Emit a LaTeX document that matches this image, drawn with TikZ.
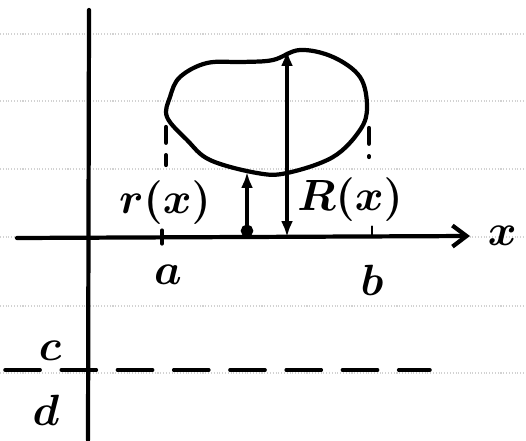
\documentclass[tikz,border=0pt]{standalone}
\usepackage{amsmath, amssymb}
\usepackage{xcolor}
\usepackage{tikz}
\usetikzlibrary{arrows.meta, positioning, calc}
\definecolor{paperline}{RGB}{210, 210, 210}
\tikzset{
    ink/.style={line width=2.4pt, line cap=round, line join=round},
    inkdash/.style={ink, dash pattern=on 9pt off 7pt},
    ruled/.style={paperline, densely dotted, line width=0.6pt},
    lbl/.style={inner sep=0pt, font=\fontsize{28}{28}\selectfont\boldmath},
}

\begin{document}
\begin{tikzpicture}
        \useasboundingbox (0,0) rectangle (10.52,8.8);

        % Paper lines
        \foreach \y in {8.12, 6.78, 5.42, 4.06, 2.68, 1.34}
            \draw[ruled] (0,\y) -- (10.52,\y);

        % Axes
        \coordinate (ybot) at (1.76,0);
        \coordinate (ytop) at (1.78,8.6);
        \coordinate (xleft) at (0.34,4.04);
        \coordinate (xright) at (9.4,4.08);
        \draw[ink] (ybot) -- (ytop);
        \draw[ink, -{Straight Barb[length=8pt, width=12pt]}] (xleft) -- (xright);
        \node[lbl, right=0.35cm of xright] (xlab) {$x$};

        % Blob
        \draw[ink] plot [smooth cycle, tension=0.6] coordinates {(3.34,6.46) (3.74,6.0) (4.2,5.6) (5.14,5.34) (5.74,5.34) (6.66,5.66) (7.2,6.2) (7.34,6.66) (7.2,7.26) (6.66,7.66) (6.0,7.8) (5.46,7.6) (4.86,7.56) (4.14,7.54) (3.6,7.26) (3.4,6.86)};

        % Limits a and b
        \coordinate (atick) at (3.24,4.05);
        \coordinate (btick) at (7.44,4.07);
        \draw[ink] ($(atick)+(0,-0.12)$) -- ($(atick)+(0,0.14)$);
        \draw[ink, line width=1.4pt] (btick) -- ++(0,0.2);
        \node[lbl] (alab) at (3.36,3.3) {$a$};
        \node[lbl] (blab) at (7.44,3.2) {$b$};
        \draw[inkdash] (3.32,6.26) -- (3.32,5.5);
        \draw[inkdash] (7.38,6.24) -- (7.38,5.66);

        % Radii
        \coordinate (rlow) at (4.94,4.06);
        \coordinate (rtop) at (4.94,5.36);
        \coordinate (Rlow) at (5.74,4.06);
        \coordinate (Rtop) at (5.74,7.8);
        \draw[ink, {Circle[length=7pt]}-{Latex[length=9pt]}] (rlow) -- (rtop);
        \draw[ink, {Latex[length=9pt]}-{Latex[length=9pt]}] (Rlow) -- (Rtop);
        \node[lbl, font=\fontsize{24}{24}\selectfont\boldmath] (rlab) at (3.3,4.74) {$r(x)$};
        \node[lbl, font=\fontsize{25}{25}\selectfont\boldmath] (Rlab) at (7.0,4.8) {$R(x)$};

        % Line y = c
        \coordinate (cleft) at (0.1,1.4);
        \coordinate (cright) at (8.6,1.4);
        \draw[inkdash, line width=2pt, dash pattern=on 20pt off 12pt] (cleft) -- (cright);
        \node[lbl] (clab) at (1.0,1.78) {$c$};
        \node[lbl] (dlab) at (0.92,0.6) {$d$};
    \end{tikzpicture}
\end{document}
